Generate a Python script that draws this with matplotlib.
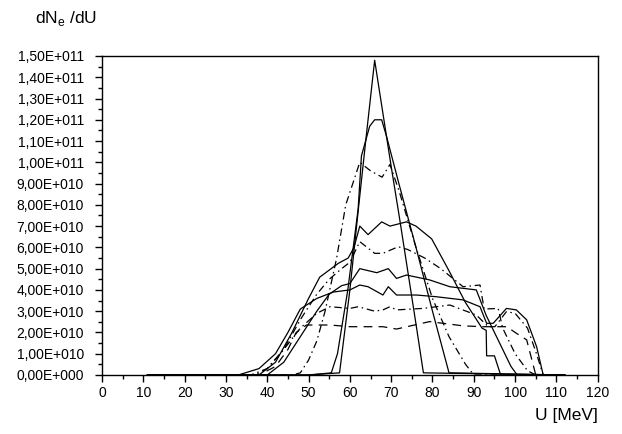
import matplotlib
matplotlib.use("Agg")
import matplotlib.pyplot as plt
from matplotlib.ticker import MultipleLocator, FuncFormatter

plt.rcParams['font.family'] = ['Liberation Sans', 'DejaVu Sans']

# energy U [MeV] and dN_e/dU values (in units of 1e10) for each spectrum
u_a = [11, 50, 57.5, 60, 62, 64, 66, 68, 70, 72, 74, 76, 77.8, 112]
v_a = [0, 0, 0.1, 4.0, 7.7, 11.3, 14.8, 12.3, 9.8, 7.4, 4.9, 2.4, 0.1, 0]

u_b = [11, 50, 55.5, 57, 59.5, 62, 62.8, 64.8, 66, 67.7, 68.9, 72, 76, 80, 84, 112]
v_b = [0, 0, 0.1, 1.0, 4.0, 7.8, 10.3, 11.7, 12.0, 12.0, 11.2, 8.9, 6.0, 3.0, 0.1, 0]

u_c = [11, 46, 48, 50, 52, 54, 56.8, 59, 62.4, 65, 67.8, 69.7, 72, 76, 80, 84, 88, 90, 112]
v_c = [0, 0, 0.1, 0.7, 1.6, 3.0, 5.5, 8.0, 10.0, 9.6, 9.3, 9.9, 8.6, 6.0, 3.6, 1.8, 0.5, 0, 0]

u_d = [11, 38, 42, 46, 50, 52.7, 57.2, 59.6, 61, 62.4, 64.4, 67.7, 69.7, 73.7, 76, 79.8,
       84, 88, 92, 93, 93.1, 95, 96.5, 112]
v_d = [0, 0, 0.6, 2.0, 3.6, 4.6, 5.25, 5.5, 6.0, 7.0, 6.6, 7.2, 7.0, 7.2, 7.0, 6.4,
       4.9, 3.4, 2.2, 2.1, 0.9, 0.9, 0, 0]

u_e = [11, 37, 40, 44, 48, 52, 55, 58, 60, 62.4, 66, 68, 71.7, 74, 78.2, 82, 87.4, 91.5,
       92.5, 95.9, 97, 100, 103, 105, 112]
v_e = [0, 0, 0.3, 1.2, 2.6, 3.8, 4.5, 5.0, 5.3, 6.27, 5.72, 5.72, 6.03, 5.9, 5.49, 5.0, 4.15, 4.23,
       3.1, 3.13, 2.2, 1.0, 0.2, 0, 0]

u_f = [11, 40, 44, 48, 52, 55, 58, 60, 62.4, 66.5, 69.3, 71.3, 73.7, 79.3, 84.2, 90.6,
       93, 96, 99, 100.5, 112]
v_f = [0, 0, 0.6, 1.8, 3.0, 3.8, 4.2, 4.3, 5.0, 4.81, 5.0, 4.54, 4.7, 4.47, 4.15, 4.0,
       2.8, 1.6, 0.4, 0, 0]

u_g = [11, 33, 38, 42, 45, 48, 52, 56, 60, 62.4, 64.4, 68, 69.3, 71.3, 76.1, 80.9, 87.4,
       91.5, 93.1, 94.7, 97.9, 100.3, 102.8, 105.2, 106.8, 112]
v_g = [0, 0, 0.3, 1.0, 2.0, 3.1, 3.6, 3.9, 4.0, 4.23, 4.15, 3.76, 4.15, 3.76, 3.76, 3.68, 3.53,
       3.21, 2.43, 2.43, 3.13, 3.06, 2.59, 1.33, 0, 0]

u_h = [11, 36, 40, 44, 48, 52, 55.2, 60, 62, 66, 68, 69.7, 71.3, 77.7, 84.2, 90.6,
       93.5, 95.1, 97.9, 100, 103, 105, 106.8, 112]
v_h = [0, 0, 0.3, 1.2, 2.2, 2.9, 3.21, 3.13, 3.21, 3.0, 3.06, 3.21, 3.06, 3.13, 3.29, 2.82,
       2.27, 2.27, 2.98, 2.9, 2.2, 1.1, 0, 0]

u_i = [11, 38, 42, 45, 47, 49.5, 55.2, 60, 68, 71.3, 79.3, 87.4, 92.2, 98, 100, 102.8, 105, 112]
v_i = [0, 0, 0.4, 1.2, 2.0, 2.35, 2.35, 2.27, 2.27, 2.16, 2.51, 2.31, 2.27, 2.27, 2.0, 1.65, 0, 0]

dashdot = (0, (6, 3, 1.2, 3))
curves = [
    (u_a, v_a, '-'),
    (u_b, v_b, '-'),
    (u_c, v_c, dashdot),
    (u_d, v_d, '-'),
    (u_e, v_e, dashdot),
    (u_f, v_f, '-'),
    (u_g, v_g, '-'),
    (u_h, v_h, dashdot),
    (u_i, v_i, (0, (7, 5))),
]

fig = plt.figure(figsize=(6.22, 4.34), dpi=100)
ax = fig.add_axes([0.164, 0.136, 0.797, 0.735])

for u, v, ls in curves:
    ax.plot(u, [x * 1e10 for x in v], color='black', lw=0.9, linestyle=ls)

ax.set_xlim(0, 120)
ax.set_ylim(0, 1.5e11)

ax.xaxis.set_major_locator(MultipleLocator(10))
ax.xaxis.set_minor_locator(MultipleLocator(5))
ax.yaxis.set_major_locator(MultipleLocator(1e10))
ax.yaxis.set_minor_locator(MultipleLocator(5e9))


def sci_comma(val, pos):
    if val == 0:
        return "0,00E+000"
    exp = 0
    m = abs(val)
    while m >= 10:
        m /= 10
        exp += 1
    return f"{m:.2f}".replace('.', ',') + f"E+{exp:03d}"


ax.yaxis.set_major_formatter(FuncFormatter(sci_comma))
ax.tick_params(which='major', direction='out', length=5, width=1, labelsize=10)
ax.tick_params(which='minor', direction='out', length=3, width=1)
ax.tick_params(axis='y', which='major', pad=8)
ax.tick_params(axis='x', which='major', pad=3)

for s in ax.spines.values():
    s.set_linewidth(1)

fig.text(0.056, 0.935, r"dN$_{\mathregular{e}}$ /dU", fontsize=12.5, ha='left', va='bottom')
fig.text(0.961, 0.025, "U [MeV]", fontsize=12.5, ha='right', va='bottom')

fig.savefig("out.png", dpi=100)
